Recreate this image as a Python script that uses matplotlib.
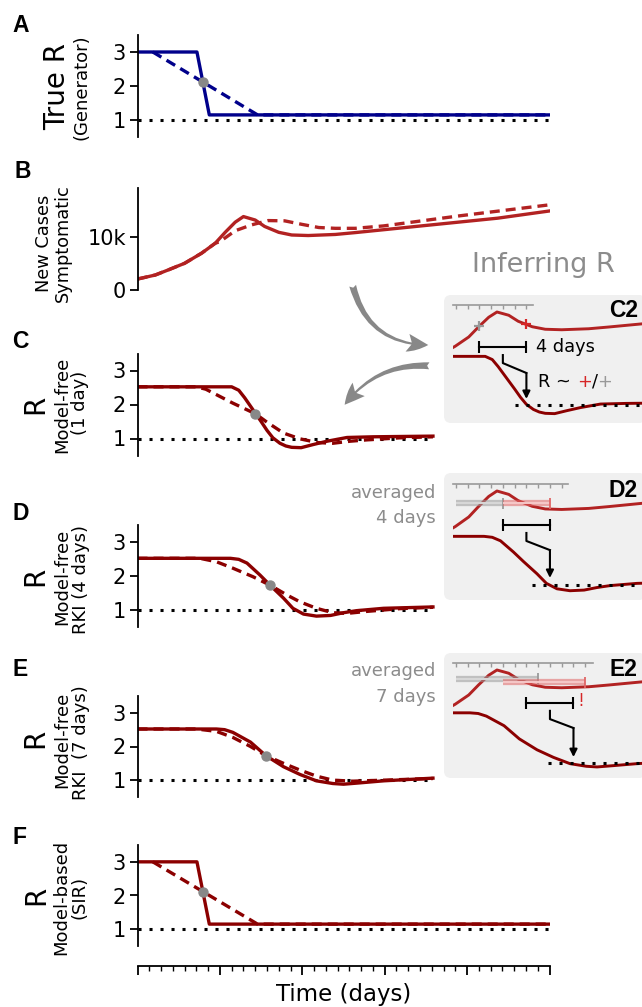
import numpy as np
import matplotlib.pyplot as plt
from matplotlib.patches import FancyBboxPatch, FancyArrowPatch, Rectangle
from matplotlib.offsetbox import TextArea, HPacker, AnnotationBbox

# ---- values (time in days) ----
# A: true R of the generator
days_true = [0, 5.05, 6.1, 35]
r_true = [3.0, 3.0, 1.15, 1.15]
days_true_ramp = [1.3, 10.2, 35]
r_true_ramp = [3.0, 1.15, 1.15]

# B: new symptomatic cases
days_cases = [0, 1.5, 2.6, 4.0, 5.45, 6.6, 7.45, 8.3, 9.0, 10.0, 10.8, 12.0,
              13.1, 14.5, 16.8, 18.5, 24.1, 30.6, 35]
cases = [2050, 2800, 3750, 5000, 6900, 8750, 10800, 12700, 13750, 13100, 11900,
         10800, 10300, 10200, 10400, 10750, 12000, 13450, 14800]
days_cases_ramp = [0, 1.5, 2.6, 4.0, 5.45, 6.6, 7.0, 8.3, 9.7, 11.1, 12.5, 13.95,
                   15.4, 16.8, 18.5, 20.9, 27.4, 35]
cases_ramp = [2050, 2800, 3750, 5000, 6900, 8750, 9060, 11100, 12200, 13000, 12950,
              12300, 11700, 11550, 11550, 12000, 13900, 15950]

# C: model-free, 1 day
days_c = [0, 8.0, 8.6, 9.1, 9.6, 10.0, 10.5, 11.0, 11.5, 12.1, 12.6, 13.1, 13.9,
          14.9, 16.1, 17.8, 20, 25.1]
r_c = [2.52, 2.52, 2.42, 2.2, 1.95, 1.75, 1.5, 1.24, 1.02, 0.86, 0.78, 0.74, 0.73,
       0.82, 0.92, 1.03, 1.05, 1.07]
days_c_ramp = [0, 5.0, 5.8, 6.7, 8.1, 10.0, 11.0, 12.4, 13.8, 15.3, 16.6, 18.05,
               19.5, 22.3, 25.1]
r_c_ramp = [2.52, 2.52, 2.45, 2.29, 2.04, 1.73, 1.48, 1.16, 0.99, 0.88, 0.86, 0.92,
            0.96, 1.02, 1.05]

# D: model-free RKI, 4 days
days_d = [0, 7.9, 8.6, 9.3, 10.4, 11.26, 12.4, 13.2, 14.1, 15.2, 16.4, 17.5, 18.6,
          20.9, 25.1]
r_d = [2.52, 2.52, 2.49, 2.38, 2.03, 1.73, 1.35, 1.05, 0.88, 0.82, 0.84, 0.92, 0.98,
       1.05, 1.09]
days_d_ramp = [0, 5.3, 6.7, 8.1, 9.8, 11.26, 12.7, 13.8, 15.2, 16.6, 17.8, 19.5,
               22.3, 25.1]
r_d_ramp = [2.52, 2.52, 2.42, 2.23, 1.98, 1.73, 1.44, 1.24, 1.05, 0.92, 0.9, 0.96,
            1.04, 1.08]

# E: model-free RKI, 7 days
days_e = [0, 6.7, 7.4, 8.1, 9.6, 10.9, 12.4, 13.8, 15.2, 16.6, 17.5, 18.9, 20.9, 25.1]
r_e = [2.52, 2.52, 2.5, 2.42, 2.13, 1.73, 1.4, 1.17, 0.98, 0.9, 0.88, 0.92, 0.98, 1.06]
days_e_ramp = [0, 5.0, 6.7, 8.1, 9.6, 10.9, 12.4, 13.8, 15.2, 16.6, 18.3, 20.9, 25.1]
r_e_ramp = [2.52, 2.52, 2.45, 2.27, 2.0, 1.73, 1.5, 1.3, 1.12, 1.0, 0.97, 1.0, 1.05]

# F: model-based (SIR)
days_sir = [0, 5.05, 6.1, 35]
r_sir = [3.0, 3.0, 1.15, 1.15]
days_sir_ramp = [1.3, 10.2, 35]
r_sir_ramp = [3.0, 1.15, 1.15]

# day of the gray marker in each panel
dot_day = {"A": 5.6, "C": 10.0, "D": 11.26, "E": 10.9, "F": 5.6}

# ---- layout ----
W, H = 642, 1007
X0, X1 = 137.5, 549.5
PXD = (X1 - X0) / 35.0

BLUE = "#00008b"
DRED = "#8b0000"
RED = "#b22222"
GRAY = "#8c8c8c"
DASH = (0, (3, 1.8))
DOT = (0, (1, 2.6))
BOLD = ["Liberation Sans", "DejaVu Sans"]


def px_rect(l, t, r, b):
    return [l / W, 1 - b / H, (r - l) / W, (b - t) / H]


def fx(x):
    return x / W


def fy(y):
    return 1 - y / H


fig = plt.figure(figsize=(W / 100, H / 100), dpi=100)


def style(ax):
    for s in ("top", "right", "bottom"):
        ax.spines[s].set_visible(False)
    ax.spines["left"].set_linewidth(1.3)
    ax.set_xticks([])
    ax.tick_params(axis="y", labelsize=15, length=5.5, width=1.3, pad=3)
    ax.set_facecolor("none")


def r_panel(top, bottom, days, vals, days_r, vals_r, color, key, end=35):
    ax = fig.add_axes(px_rect(X0, top, X1, bottom))
    ax.set_xlim(0, 35)
    ax.set_ylim(0.5, 3.5)
    ax.set_yticks([1, 2, 3])
    style(ax)
    ax.plot([0, end], [1, 1], color="k", lw=2.2, ls=DOT)
    ax.plot(days, vals, color=color, lw=2.4)
    ax.plot(days_r, vals_r, color=color, lw=2.4, ls=DASH)
    d = dot_day[key]
    ax.plot(d, np.interp(d, days_r, vals_r), "o", color="#888888", ms=6.5, zorder=5)
    return ax


def ylab(x, y, s, size):
    fig.text(fx(x), fy(y), s, rotation=90, ha="center", va="center", fontsize=size)


def letter(x, y, s):
    fig.text(fx(x), fy(y), s, ha="left", va="center", fontsize=16.5,
             fontweight="bold", family=BOLD)


# A
r_panel(35, 137, days_true, r_true, days_true_ramp, r_true_ramp, BLUE, "A")
ylab(57.5, 87, "True R", 20)
ylab(82, 87, "(Generator)", 13)
letter(12, 26, "A")

# B
axb = fig.add_axes(px_rect(X0, 188, X1, 290))
axb.set_xlim(0, 35)
axb.set_ylim(0, 19100)
axb.set_yticks([0, 10000])
axb.set_yticklabels(["0", "10k"])
style(axb)
axb.plot(days_cases, cases, color=RED, lw=2.4)
axb.plot(days_cases_ramp, cases_ramp, color=RED, lw=2.4, ls=DASH)
ylab(44, 243, "New Cases", 12.8)
ylab(63, 243, "Symptomatic", 12.8)
letter(15, 171, "B")

# C, D, E, F
r_panel(353.5, 455.5, days_c, r_c, days_c_ramp, r_c_ramp, DRED, "C", end=25.1)
ylab(35, 404, "R", 20)
ylab(62, 405, "Model-free", 13)
ylab(80, 403, "(1 day)", 13)
letter(12, 341, "C")

r_panel(525, 627, days_d, r_d, days_d_ramp, r_d_ramp, DRED, "D", end=25.1)
ylab(35, 576, "R", 20)
ylab(62, 577, "Model-free", 13)
ylab(81.5, 580, "RKI (4 days)", 13)
letter(13, 514, "D")

r_panel(696, 797, days_e, r_e, days_e_ramp, r_e_ramp, DRED, "E", end=25.1)
ylab(35, 738, "R", 20)
ylab(62, 740, "Model-free", 13)
ylab(81.5, 743, "RKI  (7 days)", 13)
letter(13, 669, "E")

r_panel(845, 946, days_sir, r_sir, days_sir_ramp, r_sir_ramp, DRED, "F")
ylab(36, 895, "R", 20)
ylab(61, 897, "Model-based", 13)
ylab(80, 897, "(SIR)", 13)
letter(13, 838, "F")

# time axis
axt = fig.add_axes(px_rect(X0, 958, X1, 966))
for s in ("top", "right", "left"):
    axt.spines[s].set_visible(False)
axt.spines["bottom"].set_linewidth(1.3)
axt.set_facecolor("none")
axt.set_xlim(0, 35)
axt.set_yticks([])
axt.set_xticks(np.arange(0, 36, 7))
axt.set_xticks(np.arange(0, 36, 1), minor=True)
axt.tick_params(axis="x", which="major", length=6.5, width=1.3, labelbottom=False)
axt.tick_params(axis="x", which="minor", length=3.5, width=1.0)
axt.set_xlabel("Time (days)", fontsize=16.5, labelpad=5)

# ---- insets C2, D2, E2 ----
IN_L, IN_R = 444, 646
T0 = 4.5


def make_inset(top, bottom, r_ylim, c_ylim, r_days, r_vals, label, label_y):
    axc = fig.add_axes(px_rect(IN_L, top, IN_R, bottom), zorder=5)
    axr = fig.add_axes(px_rect(IN_L, top, IN_R, bottom), zorder=6)
    for a in (axc, axr):
        a.set_xlim(T0, T0 + (IN_R - IN_L) / PXD)
        a.axis("off")
    axc.set_ylim(*c_ylim)
    axr.set_ylim(*r_ylim)
    box = FancyBboxPatch((0, 0), 1, 1, boxstyle="round,pad=0,rounding_size=0.035",
                         mutation_aspect=(IN_R - IN_L) / (bottom - top),
                         transform=axc.transAxes, fc="#f0f0f0", ec="none",
                         clip_on=False, zorder=0)
    axc.add_patch(box)
    ln1, = axc.plot(days_cases, cases, color=RED, lw=2.1, zorder=2)
    ln2, = axr.plot(r_days, r_vals, color=DRED, lw=2.1, zorder=2)
    ln1.set_clip_path(Rectangle((5.26, -1e6), 100, 2e6, transform=axc.transData))
    ln2.set_clip_path(Rectangle((5.26, -1e6), 100, 2e6, transform=axr.transData))
    axr.text(20.95, label_y, label, ha="right", va="center", fontsize=16.5,
             fontweight="bold", family=BOLD)
    return axc, axr


def ruler(ax, x0, x1, y, ticks):
    ax.plot([x0, x1], [y, y], color="#999999", lw=1.2)
    ax.vlines(ticks, y - 0.13, y, color="#999999", lw=1.0)


def bracket(ax, x0, x1, y, h=0.19):
    ax.plot([x0, x1], [y, y], color="k", lw=1.5)
    ax.vlines([x0, x1], y - h, y + h, color="k", lw=1.5)


def pointer(ax, xa, xb, y1, y2, y3, y4):
    ax.plot([xa, xa, xb], [y1, y2, y3], color="k", lw=1.5)
    ax.annotate("", xy=(xb, y4), xytext=(xb, y3),
                arrowprops=dict(arrowstyle="-|>", color="k", lw=1.5,
                                shrinkA=0, shrinkB=0, mutation_scale=11))


def band(ax, x0, x1, y, dark, light, h=0.17):
    ax.plot([x0, x1], [y, y], color=dark, lw=4.5, alpha=0.55, solid_capstyle="butt")
    ax.plot([x0, x1], [y, y], color=light, lw=1.4, solid_capstyle="butt")
    ax.vlines(x1, y - h, y + h, color=dark, lw=1.3)


# C2
c2c, c2r = make_inset(295, 423, (0.4375, 4.4375), (-8450, 17150), days_c, r_c, "C2", 3.94)
ruler(c2r, 5.26, 12.06, 4.125, np.arange(5.5, 12, 1))
c2r.plot([10.5, 22], [1, 1], color="k", lw=2.2, ls=DOT)
c2c.plot(7.5, np.interp(7.5, days_cases, cases), "+", color="#999999", ms=7.5, mew=1.6)
c2c.plot(11.5, np.interp(11.5, days_cases, cases), "+", color="#d62728", ms=7.5, mew=1.6)
bracket(c2r, 7.5, 11.5, 2.81)
c2r.text(12.3, 2.81, "4 days", ha="left", va="center", fontsize=12.8)
pointer(c2r, 9.5, 11.5, 2.56, 2.31, 2.0, 1.19)
parts = HPacker(children=[TextArea("R ~ ", textprops=dict(fontsize=12.8, color="k")),
                          TextArea("+", textprops=dict(fontsize=12.8, color="#d62728")),
                          TextArea("/", textprops=dict(fontsize=12.8, color="k")),
                          TextArea("+", textprops=dict(fontsize=12.8, color="#999999"))],
                pad=0, sep=0)
c2r.add_artist(AnnotationBbox(parts, (12.5, 1.72), xycoords="data", box_alignment=(0, 0.5),
                              frameon=False, pad=0))

# D2
d2c, d2r = make_inset(473, 600, (0.53, 4.5), (-7210, 17210), days_d, r_d, "D2", 3.94)
ruler(d2r, 5.26, 15.04, 4.16, np.arange(5.5, 15, 1))
d2r.plot([12.0, 22], [1, 1], color="k", lw=2.2, ls=DOT)
band(d2r, 5.5, 9.5, 3.56, "#9a9a9a", "#d8d8d8")
band(d2r, 9.5, 13.5, 3.56, "#e06666", "#f6c8c8")
bracket(d2r, 9.5, 13.5, 2.875)
pointer(d2r, 11.5, 13.5, 2.625, 2.375, 2.09, 1.22)
fig.text(fx(436), fy(493), "averaged", ha="right", va="center", fontsize=13, color=GRAY)
fig.text(fx(436), fy(518), "4 days", ha="right", va="center", fontsize=13, color=GRAY)

# E2
e2c, e2r = make_inset(653, 778, (0.545, 4.333), (-7850, 17150), days_e, r_e, "E2", 3.82)
ruler(e2r, 5.26, 17.16, 4.03, np.arange(5.5, 17, 1))
e2r.plot([13.3, 22], [1, 1], color="k", lw=2.2, ls=DOT)
band(e2r, 5.5, 12.5, 3.545, "#9a9a9a", "#d8d8d8")
band(e2r, 9.5, 16.5, 3.45, "#e06666", "#f6c8c8")
bracket(e2r, 11.5, 15.5, 2.82)
e2r.text(16.15, 2.88, "!", ha="center", va="center", fontsize=12.5, color="#d62728")
pointer(e2r, 13.5, 15.5, 2.58, 2.33, 2.06, 1.18)
fig.text(fx(436), fy(671), "averaged", ha="right", va="center", fontsize=13, color=GRAY)
fig.text(fx(436), fy(697), "7 days", ha="right", va="center", fontsize=13, color=GRAY)

# "Inferring R" and the two curved arrows
fig.text(fx(543), fy(265), "Inferring R", ha="center", va="center", fontsize=19.5, color=GRAY)
arrow_style = "fancy,head_length=1.5,head_width=1.3,tail_width=0.5"
fig.add_artist(FancyArrowPatch((fx(352), fy(283)), (fx(431), fy(345)),
                               connectionstyle="arc3,rad=0.4", arrowstyle=arrow_style,
                               mutation_scale=10, color="#888888", lw=0,
                               transform=fig.transFigure))
fig.add_artist(FancyArrowPatch((fx(432), fy(366)), (fx(343), fy(407)),
                               connectionstyle="arc3,rad=0.28", arrowstyle=arrow_style,
                               mutation_scale=10, color="#888888", lw=0,
                               transform=fig.transFigure))

fig.savefig("out.png", dpi=100)
